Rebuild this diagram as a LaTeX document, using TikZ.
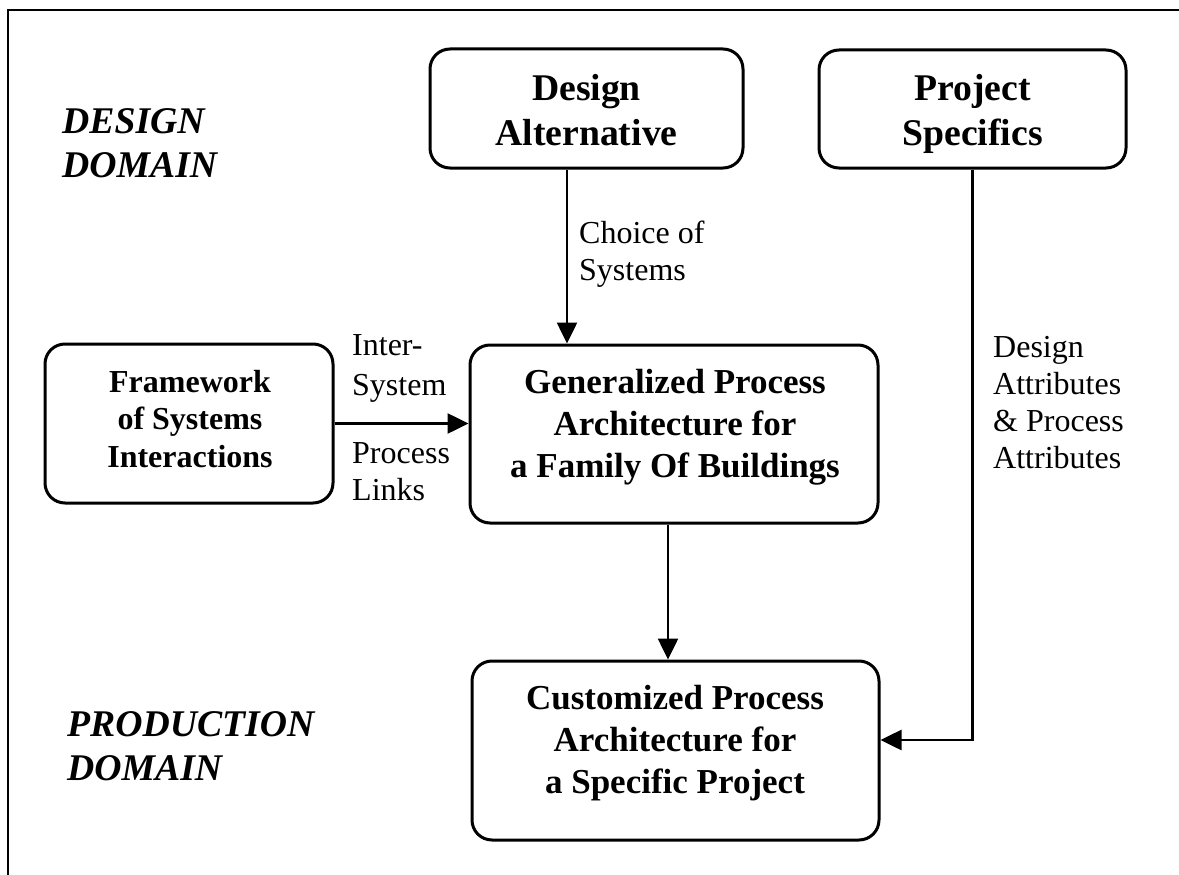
\documentclass[tikz,border=0pt]{standalone}
\usepackage{fontspec}
\setmainfont{Liberation Serif}
\usetikzlibrary{arrows.meta,calc}

\begin{document}
\begin{tikzpicture}[x=1pt,y=-1pt,
  box/.style={draw,line width=3pt,rounded corners=20pt,inner sep=0pt},
  title/.style={align=center,anchor=base,inner sep=0pt,
    font={\bfseries\fontsize{35}{42}\selectfont}},
  bigtitle/.style={align=center,anchor=base,inner sep=0pt,
    font={\bfseries\fontsize{37.7}{45}\selectfont}},
  smalltitle/.style={align=center,anchor=base,inner sep=0pt,
    font={\bfseries\fontsize{32}{37.5}\selectfont}},
  domaincap/.style={align=left,anchor=base west,inner sep=0pt,
    font={\bfseries\itshape\fontsize{37.7}{44}\selectfont}},
  lbl/.style={align=left,anchor=base west,inner sep=0pt,
    font={\fontsize{32}{37}\selectfont}},
  arr/.style={line width=2.6pt,-{Triangle[length=21pt,width=20pt]}}]

  % page extent and partial frame
  \useasboundingbox (0,0) rectangle (1179,875);
  \draw[line width=2.6pt] (8,875) -- (8,10) -- (1179,10);

  % domain captions (anchored on the last line's baseline)
  \node[domaincap] (dd) at (62,177) {DESIGN\\DOMAIN};
  \node[domaincap] (pd) at (67,780) {PRODUCTION\\DOMAIN};

  % boxes
  \node[box,minimum width=313pt,minimum height=119pt] (da) at (586.5,108.5) {};
  \node[box,minimum width=307pt,minimum height=118pt] (ps) at (972.5,109) {};
  \node[box,minimum width=288pt,minimum height=159pt] (fw) at (189,423.5) {};
  \node[box,minimum width=408pt,minimum height=178pt] (gp) at (674,434) {};
  \node[box,minimum width=407pt,minimum height=179pt] (cp) at (675.5,750.5) {};

  % box texts
  \node[bigtitle] (dat) at (586.5,145) {Design\\Alternative};
  \node[bigtitle] (pst) at (972.5,145) {Project\\Specifics};
  \node[smalltitle] (fwt) at (190,467) {Framework\\of Systems\\Interactions};
  \node[title] (gpt) at (675,477) {Generalized Process\\Architecture for\\a Family Of Buildings};
  \node[title] (cpt) at (675,793) {Customized Process\\Architecture for\\a Specific Project};

  % connectors
  \draw[arr] ([xshift=-19.5pt]da.south) -- ([xshift=-19.5pt]da.south |- gp.north);
  \draw[arr] (fw.east) -- (fw.east -| gp.west);
  \draw[arr] ([xshift=-6pt]gp.south) -- ([xshift=-6pt]gp.south |- cp.north);
  \draw[arr] (ps.south) |- ([yshift=10.5pt]cp.east);

  % connector labels
  \node[lbl] (l1) at (579,280) {Choice of\\Systems};
  \node[lbl,font={\fontsize{32}{40}\selectfont}] (l2) at (352,395) {Inter-\\System};
  \node[lbl] (l3) at (352,500) {Process\\Links};
  \node[lbl,font={\fontsize{32}{36.7}\selectfont}] (l4) at (993,468) {Design\\Attributes\\\& Process\\Attributes};
\end{tikzpicture}
\end{document}
